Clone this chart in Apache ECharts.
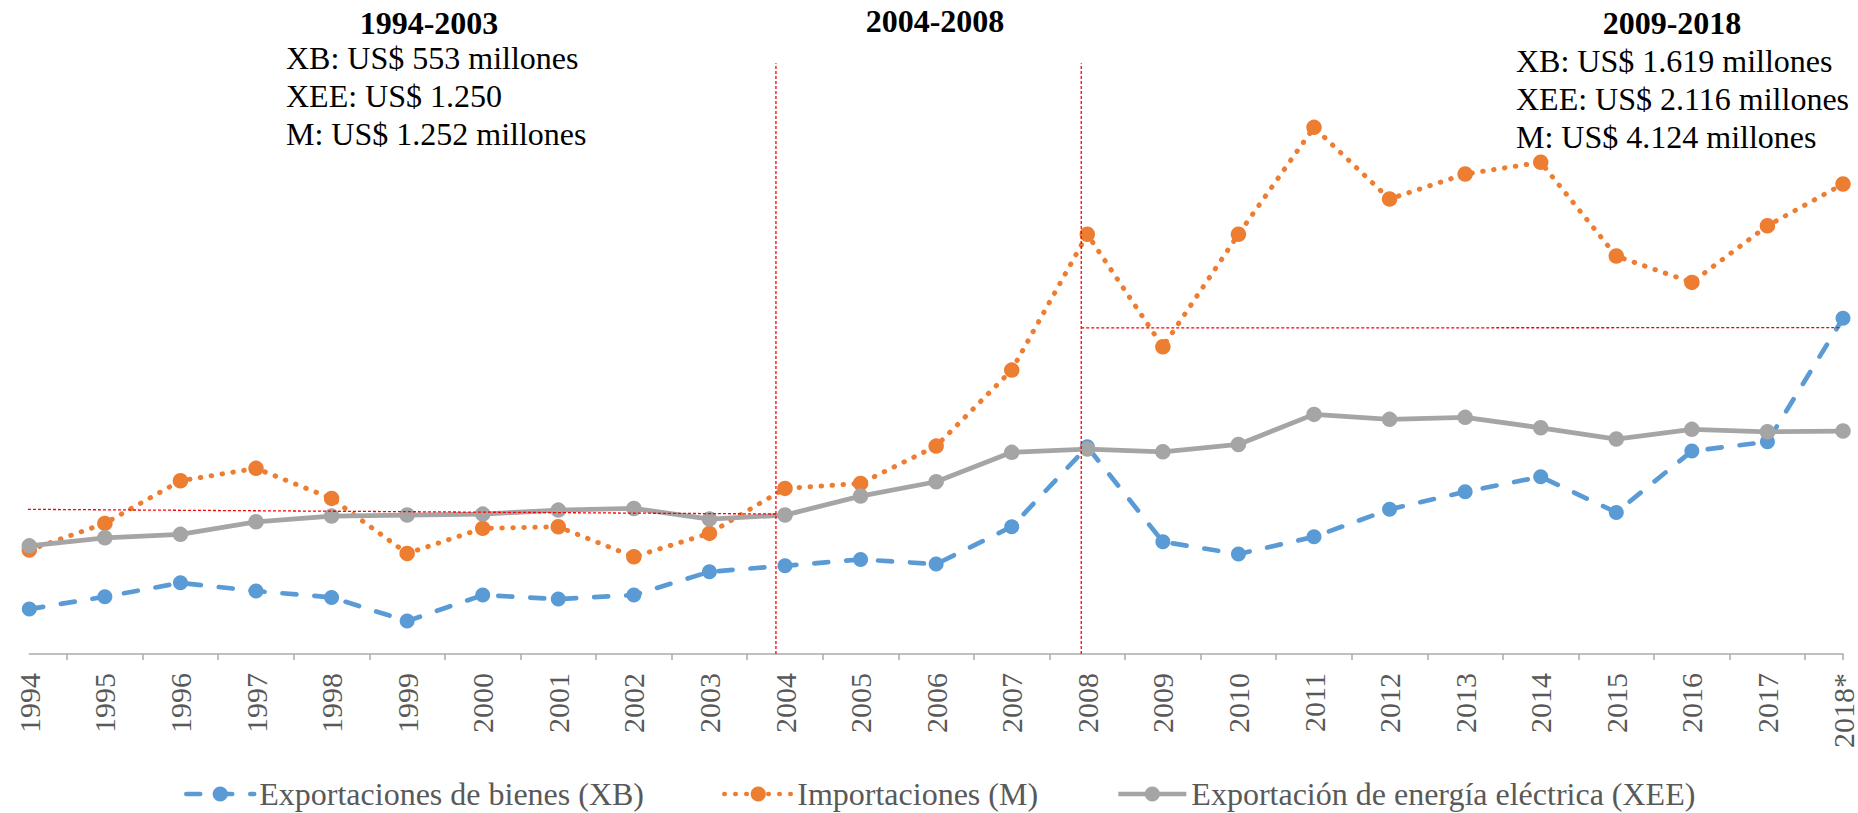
<!DOCTYPE html>
<html>
<head>
<meta charset="utf-8">
<script src="https://cdn.jsdelivr.net/npm/echarts@6/dist/echarts.min.js"></script>
<style>
  html, body { margin: 0; padding: 0; background: #fff; }
  #chart { width: 1858px; height: 813px; }
</style>
</head>
<body>
<div id="chart"></div>
<script>
// years on the x axis
const years = ['1994', '1995', '1996', '1997', '1998', '1999', '2000', '2001', '2002', '2003',
  '2004', '2005', '2006', '2007', '2008', '2009', '2010', '2011', '2012', '2013',
  '2014', '2015', '2016', '2017', '2018*']

// millones de US$
const exportsGoods = [426, 543, 675, 597, 537, 312, 559, 521, 559, 780,
  837, 897, 853, 1207, 1966, 1064, 948, 1112, 1372, 1539,
  1681, 1343, 1925, 2013, 3184]
const imports = [986, 1239, 1643, 1761, 1476, 954, 1192, 1207, 922, 1144,
  1571, 1618, 1972, 2693, 3981, 2914, 3981, 4996, 4316, 4553,
  4664, 3775, 3525, 4062, 4458]
const electricity = [1026, 1102, 1135, 1254, 1308, 1318, 1327, 1365, 1381, 1280,
  1318, 1498, 1634, 1913, 1944, 1918, 1988, 2273, 2226, 2245,
  2146, 2039, 2131, 2108, 2115]

const seriesNames = ['Exportaciones de bienes (XB)', 'Importaciones (M)', 'Exportación de energía eléctrica (XEE)']

// red hand-drawn guide lines, [year index, value]
const guideLeft = [[-0.15, 1373], [9.88, 1328]]
const guideRight = [[13.92, 3093], [23.98, 3096]]
const guide2004 = [[9.88, 0], [9.88, 5604]]
const guide2008 = [[13.92, 0], [13.92, 5604]]

// period notes
const periodTitles = ['1994-2003', '2004-2008', '2009-2018']
const notesFirst = ['XB: US$ 553 millones', 'XEE: US$ 1.250', 'M: US$ 1.252 millones']
const notesLast = ['XB: US$ 1.619 millones', 'XEE: US$ 2.116 millones', 'M: US$ 4.124 millones']

// half steps so ticks can sit between the years
const halfSteps = years.flatMap((y, i) => i < years.length - 1 ? [y, y + '+'] : [y])

const serif = 'Liberation Serif'
const blue = '#5B9BD5'
const orange = '#ED7D31'
const grey = '#A5A5A5'

const chart = echarts.init(document.getElementById('chart'), null, { renderer: 'svg' })

const guideSeries = (data) => ({
  type: 'line',
  xAxisIndex: 2,
  data: data,
  symbol: 'none',
  silent: true,
  clip: false,
  z: 10,
  lineStyle: { color: '#FF0000', width: 1.3, type: [3, 2] }
})

const noteTexts = []
const titleX = [429, 935, 1672]
const titleY = [22.5, 21, 22.5]
periodTitles.forEach((t, i) => {
  noteTexts.push({
    type: 'text', x: titleX[i], y: titleY[i],
    style: { text: t, fontSize: 32, fontWeight: 'bold', fontFamily: serif, fill: '#000', align: 'center', verticalAlign: 'middle' }
  })
})
notesFirst.forEach((t, i) => {
  noteTexts.push({
    type: 'text', x: 286, y: 58 + i * 37.8,
    style: { text: t, fontSize: 32, fontFamily: serif, fill: '#000', align: 'left', verticalAlign: 'middle' }
  })
})
notesLast.forEach((t, i) => {
  noteTexts.push({
    type: 'text', x: 1516, y: 61 + i * 38.2,
    style: { text: t, fontSize: 32, fontFamily: serif, fill: '#000', align: 'left', verticalAlign: 'middle' }
  })
})

chart.setOption({
  animation: false,
  backgroundColor: '#fff',
  textStyle: { fontFamily: serif },
  grid: { left: 29.3, right: 15, top: 21.5, bottom: 159 },
  legend: {
    data: seriesNames,
    left: 184,
    top: 778,
    padding: 0,
    itemWidth: 68,
    itemHeight: 19,
    itemGap: 78,
    lineStyle: { width: 4.5 },
    textStyle: { fontSize: 32, color: '#595959', fontFamily: serif }
  },
  xAxis: [
    {
      type: 'category',
      data: years,
      boundaryGap: false,
      position: 'bottom',
      axisLine: { lineStyle: { color: '#ABABAB', width: 1.5 } },
      axisTick: { show: false },
      axisLabel: { rotate: 90, margin: 19, fontSize: 30, color: '#595959', fontFamily: serif, interval: 0 }
    },
    {
      type: 'category',
      data: halfSteps,
      boundaryGap: false,
      position: 'bottom',
      offset: 0,
      axisLine: { show: false },
      axisLabel: { show: false },
      axisTick: {
        show: true,
        length: 6,
        lineStyle: { color: '#ABABAB', width: 1.5 },
        interval: (index) => index % 2 === 1 || index === halfSteps.length - 1
      }
    },
    { type: 'value', min: 0, max: 24, show: false }
  ],
  yAxis: { type: 'value', min: 0, max: 6000, show: false, splitLine: { show: false } },
  series: [
    {
      name: seriesNames[0],
      type: 'line',
      data: exportsGoods,
      symbol: 'circle',
      symbolSize: 15,
      itemStyle: { color: blue },
      lineStyle: { color: blue, width: 4.7, type: [14, 18], cap: 'round' },
      z: 2
    },
    {
      name: seriesNames[1],
      type: 'line',
      data: imports,
      symbol: 'circle',
      symbolSize: 15.5,
      itemStyle: { color: orange },
      lineStyle: { color: orange, width: 5, type: [0.5, 10.5], cap: 'round' },
      z: 3
    },
    {
      name: seriesNames[2],
      type: 'line',
      data: electricity,
      symbol: 'circle',
      symbolSize: 15.5,
      itemStyle: { color: grey },
      lineStyle: { color: grey, width: 4.8 },
      z: 4
    },
    guideSeries(guideLeft),
    guideSeries(guideRight),
    guideSeries(guide2004),
    guideSeries(guide2008)
  ],
  graphic: noteTexts
})
</script>
</body>
</html>
